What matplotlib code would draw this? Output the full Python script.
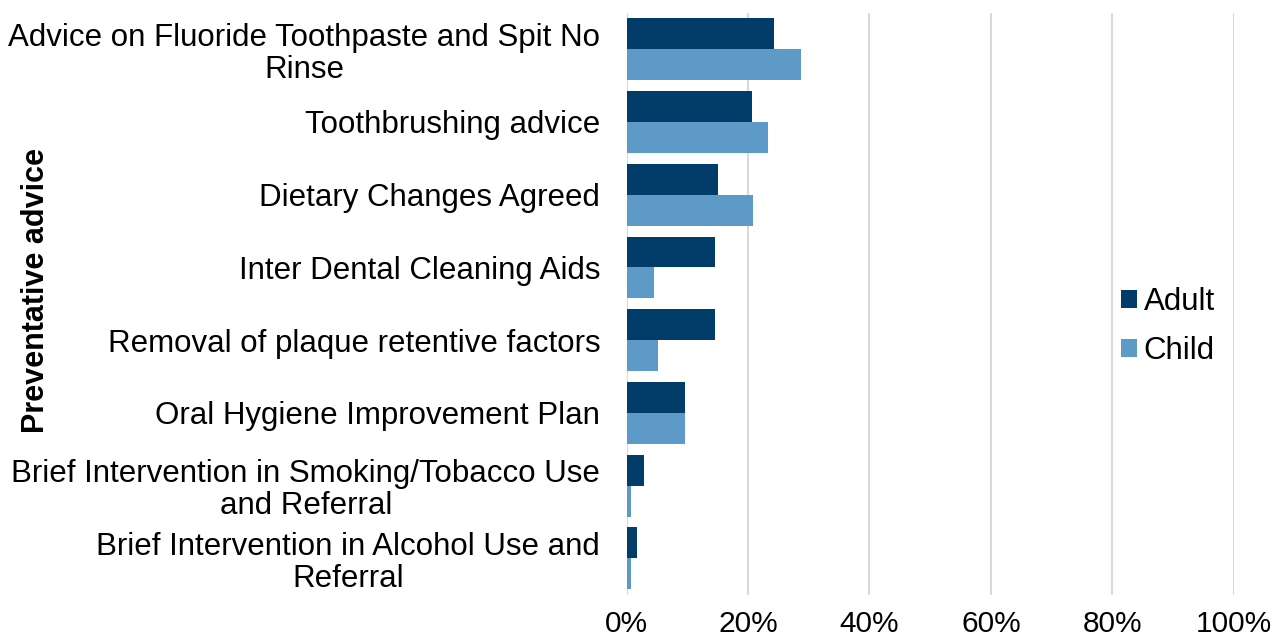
import matplotlib
matplotlib.use("Agg")
import matplotlib.pyplot as plt
import numpy as np

categories = [
    "Advice on Fluoride Toothpaste and Spit No\nRinse",
    "Toothbrushing advice",
    "Dietary Changes Agreed",
    "Inter Dental Cleaning Aids",
    "Removal of plaque retentive factors",
    "Oral Hygiene Improvement Plan",
    "Brief Intervention in Smoking/Tobacco Use\nand Referral",
    "Brief Intervention in Alcohol Use and\nReferral",
]
adult = [24.2, 20.7, 15.0, 14.6, 14.6, 9.7, 2.8, 1.7]
child = [28.7, 23.3, 20.8, 4.6, 5.2, 9.7, 0.7, 0.7]
xticks = [0, 20, 40, 60, 80, 100]
xticklabels = ["0%", "20%", "40%", "60%", "80%", "100%"]

plt.rcParams['font.family'] = ['Liberation Sans', 'DejaVu Sans']

fig = plt.figure(figsize=(12.76, 6.43), dpi=100)
ax = fig.add_axes([0.491, 0.075, 0.476, 0.905])

y = np.arange(len(categories))
h = 0.425
ax.barh(y - h / 2, adult, height=h, color="#023C69", label="Adult", zorder=3)
ax.barh(y + h / 2, child, height=h, color="#5E9AC8", label="Child", zorder=3)

ax.set_xlim(0, 100)
ax.set_ylim(len(categories) - 0.5, -0.5)
ax.set_xticks(xticks)
ax.set_xticklabels(xticklabels, fontsize=21.5)
ax.set_yticks(y)
ax.set_yticklabels(categories, fontsize=22.5, ha="right", multialignment="center",
                   linespacing=1.1)
ax.tick_params(axis="both", length=0)
ax.tick_params(axis="x", pad=11)
ax.tick_params(axis="y", pad=19)
ax.grid(axis="x", color="#D9D9D9", linewidth=1.5, zorder=0)
for s in ax.spines.values():
    s.set_visible(False)

fig.text(0.028, 0.548, "Preventative advice", rotation=90, fontsize=22,
         fontweight="bold", ha="center", va="center")

leg = ax.legend(loc="center left", bbox_to_anchor=(0.869, 0.492),
                bbox_transform=fig.transFigure, frameon=False, fontsize=22.5,
                handlelength=0.5, handleheight=0.5, handletextpad=0.22,
                labelspacing=0.62, borderaxespad=0)

fig.savefig("out.png", dpi=100, facecolor="white")
